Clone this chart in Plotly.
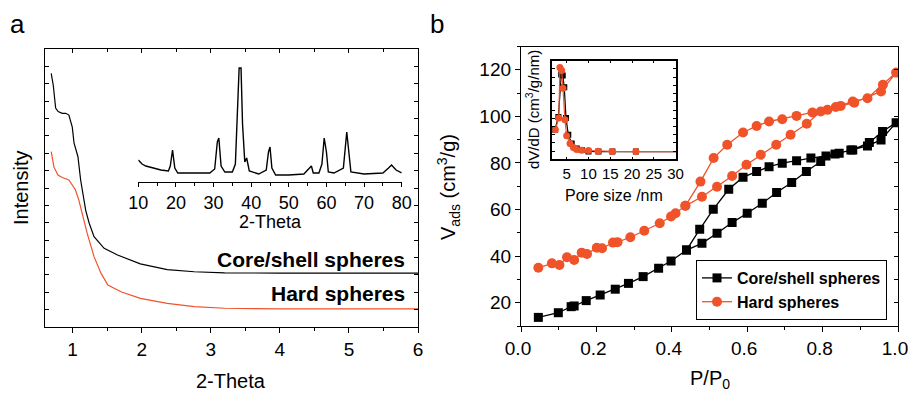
import plotly.graph_objects as go

W, H = 909, 393
RED = "#F0532A"
FONT = "Arial, Liberation Sans, sans-serif"

# ---------- panel a: small-angle XRD ----------
core_tt = [0.69, 0.72, 0.754, 0.79, 0.85, 0.90, 0.946, 0.995, 1.02, 1.077, 1.116, 1.14, 1.155, 1.19, 1.24, 1.31, 1.456, 1.65, 1.98, 2.37, 2.76, 3.2, 4.0, 5.0, 6.0]
core_int = [14.6, 13.9, 12.6, 12.4, 12.3, 12.3, 12.2, 11.5, 10.6, 9.8, 8.46, 7.9, 7.3, 6.7, 5.97, 5.2, 4.53, 4.14, 3.63, 3.3, 3.18, 3.12, 3.1, 3.1, 3.1]
hard_tt = [0.69, 0.73, 0.787, 0.85, 0.946, 1.04, 1.09, 1.14, 1.21, 1.31, 1.41, 1.51, 1.70, 1.98, 2.37, 2.76, 3.2, 4.0, 5.0, 6.0]
hard_int = [10.09, 9.2, 8.75, 8.6, 8.46, 7.9, 7.3, 6.54, 5.4, 4.05, 3.1, 2.42, 2.03, 1.65, 1.36, 1.17, 1.08, 1.04, 1.04, 1.04]

# inset: wide-angle XRD
wa_tt = [10, 11, 12, 14, 16, 18, 18.5, 19.1, 19.7, 20.5, 25, 29, 30.3, 31.0, 31.4, 32, 33, 35, 35.8, 36.3, 36.8, 37.3, 37.7, 38.3, 38.8, 39.5, 42, 44, 44.6, 45.0, 45.5, 46.5, 50, 54, 55.5, 56, 56.5, 58, 58.8, 59.4, 60, 60.5, 62, 64.5, 65.4, 66, 66.5, 70, 75, 76.5, 77.3, 78.5, 80]
wa_int = [22, 18, 16, 14, 12, 11, 16, 32, 14, 9, 9, 9, 13, 40, 44, 16, 10, 10, 18, 60, 114, 114, 58, 20, 24, 11, 8, 12, 30, 35, 14, 7, 7, 8, 14, 16, 9, 9, 18, 44, 30, 10, 9, 14, 50, 30, 10, 8, 9, 14, 17, 12, 9]

# ---------- panel b: N2 isotherms ----------
core_p = [0.046, 0.099, 0.133, 0.141, 0.173, 0.210, 0.250, 0.285, 0.324, 0.365, 0.398, 0.439, 0.48, 0.52, 0.56, 0.60, 0.64, 0.678, 0.718, 0.757, 0.795, 0.833, 0.875, 0.919, 0.955, 0.995,
          0.959, 0.924, 0.88, 0.844, 0.809, 0.769, 0.731, 0.693, 0.658, 0.625, 0.589, 0.551, 0.51, 0.474, 0.439]
core_v = [13.7, 15.7, 18.3, 18.6, 20.9, 23.3, 25.8, 28.3, 31.2, 34.8, 37.9, 42.6, 45.5, 49.8, 54.4, 58.4, 62.7, 67.3, 71.6, 76.3, 80.6, 83.8, 85.6, 87.3, 89.9, 97.3,
          93.5, 88.8, 85.6, 84.2, 83.0, 82.1, 80.9, 79.9, 78.4, 76.3, 73.9, 68.7, 60.1, 51.5, 42.6]
hard_p = [0.046, 0.082, 0.102, 0.122, 0.141, 0.161, 0.175, 0.201, 0.215, 0.244, 0.256, 0.29, 0.327, 0.368, 0.398, 0.41, 0.436, 0.48, 0.52, 0.56, 0.598, 0.636, 0.677, 0.715, 0.758, 0.795, 0.835, 0.88, 0.919, 0.96, 0.995,
          0.955, 0.884, 0.848, 0.813, 0.773, 0.731, 0.693, 0.658, 0.625, 0.589, 0.547, 0.511, 0.476, 0.436]
hard_v = [35.0, 36.9, 36.2, 39.5, 38.3, 41.5, 40.9, 43.6, 43.4, 45.8, 46.0, 48.1, 50.9, 54.1, 57.0, 58.4, 61.6, 65.5, 69.8, 74.4, 79.2, 83.5, 87.8, 92.1, 96.8, 102.1, 104.0, 106.4, 107.8, 113.6, 118.8,
          110.7, 105.9, 104.5, 102.8, 101.7, 100.2, 98.8, 97.8, 95.9, 93.1, 87.8, 82.1, 72.0, 61.6]

# inset: pore size distribution
core_d = [2.3, 3.1, 3.75, 4.1, 4.45, 4.84, 5.37, 6.15, 7.3, 8.46, 10.0, 12.3, 15.5, 20.9, 31]
core_dv = [0.30, 0.43, 0.86, 0.85, 0.73, 0.42, 0.25, 0.16, 0.11, 0.094, 0.08, 0.078, 0.078, 0.078, 0.078]
hard_d = [2.4, 3.2, 3.45, 3.85, 4.15, 4.6, 5.0, 5.77, 6.54, 7.3, 8.46, 10.0, 12.2, 15.4, 20.9, 31]
hard_dv = [0.30, 0.42, 0.93, 0.90, 0.72, 0.40, 0.24, 0.16, 0.12, 0.10, 0.092, 0.088, 0.082, 0.08, 0.078, 0.078]

# tick labels
iso_ticks = [0.0, 0.2, 0.4, 0.6, 0.8, 1.0]
iso_ticklabels = ["0.0", "0.2", "0.4", "0.6", "0.8", "1.0"]


def px(x0, x1):
    return [x0 / W, x1 / W]


def py(top, bottom):
    return [(H - bottom) / H, (H - top) / H]


fig = go.Figure()

# panel a main
fig.add_trace(go.Scatter(x=core_tt, y=core_int, mode="lines", line=dict(color="black", width=1.2),
                         xaxis="x", yaxis="y", showlegend=False))
fig.add_trace(go.Scatter(x=hard_tt, y=hard_int, mode="lines", line=dict(color=RED, width=1.2),
                         xaxis="x", yaxis="y", showlegend=False))
# panel a inset
fig.add_trace(go.Scatter(x=wa_tt, y=wa_int, mode="lines", line=dict(color="black", width=1.4),
                         xaxis="x2", yaxis="y2", showlegend=False))
# panel b main
fig.add_trace(go.Scatter(x=core_p, y=core_v, mode="lines+markers", name="<b>Core/shell spheres</b>",
                         line=dict(color="black", width=1.3),
                         marker=dict(symbol="square", size=9, color="black"),
                         xaxis="x3", yaxis="y3"))
fig.add_trace(go.Scatter(x=hard_p, y=hard_v, mode="lines+markers", name="<b>Hard spheres</b>",
                         line=dict(color=RED, width=1.3),
                         marker=dict(symbol="circle", size=10, color=RED),
                         xaxis="x3", yaxis="y3"))
# panel b inset
fig.add_trace(go.Scatter(x=core_d, y=core_dv, mode="lines+markers", showlegend=False,
                         line=dict(color="black", width=1.2),
                         marker=dict(symbol="square", size=6, color="black"),
                         xaxis="x4", yaxis="y4"))
fig.add_trace(go.Scatter(x=hard_d, y=hard_dv, mode="lines+markers", showlegend=False,
                         line=dict(color=RED, width=1.2),
                         marker=dict(symbol="circle", size=7, color=RED),
                         xaxis="x4", yaxis="y4"))
# dummy traces for mirror-tick overlay axes
fig.add_trace(go.Scatter(x=[], y=[], xaxis="x5", yaxis="y", showlegend=False))
fig.add_trace(go.Scatter(x=[], y=[], xaxis="x3", yaxis="y6", showlegend=False))

ax_common = dict(showline=True, linecolor="black", linewidth=1.3, ticks="outside", tickcolor="black",
                 tickwidth=1.2, zeroline=False, showgrid=False, automargin=False,
                 ticklabeloverflow="allow",
                 tickfont=dict(size=19, color="black", family=FONT))

fig.update_layout(
    width=W, height=H, margin=dict(l=0, r=0, t=0, b=0),
    paper_bgcolor="white", plot_bgcolor="rgba(0,0,0,0)",
    font=dict(family=FONT, color="black"),
    xaxis=dict(ax_common, domain=px(45, 418), range=[0.6, 6], dtick=1, tick0=0, ticklen=5, anchor="y",
               minor=dict(dtick=0.5, ticks="outside", ticklen=3, tickcolor="black")),
    xaxis5=dict(ax_common, overlaying="x", side="top", anchor="y", range=[0.6, 6], dtick=1, tick0=0,
                ticks="inside", ticklen=4, showticklabels=False,
                minor=dict(dtick=0.5, ticks="inside", ticklen=3, tickcolor="black")),
    yaxis=dict(ax_common, domain=py(49, 327), range=[0, 16], dtick=1, ticks="inside", ticklen=4,
               showticklabels=False, mirror="ticks", anchor="x"),
    xaxis2=dict(ax_common, domain=px(138.3, 401.7), range=[10, 80], dtick=10, ticklen=4, anchor="y2",
                tickfont=dict(size=18, color="black", family=FONT),
                minor=dict(dtick=5, ticks="outside", ticklen=2.5, tickcolor="black")),
    yaxis2=dict(domain=py(65, 182), range=[0, 117], visible=False, anchor="x2"),
    xaxis3=dict(ax_common, domain=px(521, 898), range=[0, 1.0], tickmode="array",
                tickvals=iso_ticks, ticktext=iso_ticklabels, ticklabelshift=-3,
                ticklen=5, mirror=True, anchor="y3",
                minor=dict(tickmode="linear", tick0=0, dtick=0.1, ticks="outside", ticklen=3, tickcolor="black")),
    yaxis3=dict(ax_common, domain=py(46.5, 326), range=[10, 130], dtick=20, tick0=0, ticklen=5, anchor="x3",
                minor=dict(dtick=10, ticks="outside", ticklen=3, tickcolor="black")),
    yaxis6=dict(ax_common, overlaying="y3", side="right", anchor="x3", range=[10, 130], dtick=10, tick0=0,
                ticks="inside", ticklen=4, showticklabels=False),
    xaxis4=dict(ax_common, domain=px(552.3, 676), range=[1.7, 30.1], dtick=5, tick0=0, ticks="inside",
                ticklen=3, mirror="ticks", linewidth=1.5, anchor="y4",
                tickfont=dict(size=15, color="black", family=FONT)),
    yaxis4=dict(ax_common, domain=py(60.7, 159.3), range=[0, 1], dtick=1 / 12, tick0=0, ticks="inside",
                ticklen=3, mirror="ticks", linewidth=1.5, showticklabels=False, anchor="x4"),
    legend=dict(x=696 / W, y=(H - 260) / H, xanchor="left", yanchor="top",
                bordercolor="black", borderwidth=1, bgcolor="white",
                font=dict(size=16, color="black", family=FONT), tracegroupgap=0),
)

ann = []


def text(x, y, s, size, angle=0, xanchor="center", bold=False):
    ann.append(dict(x=x / W, y=(H - y) / H, xref="paper", yref="paper", text=s, showarrow=False,
                    textangle=angle, xanchor=xanchor, yanchor="middle",
                    font=dict(size=size, color="black", family=FONT,
                              weight="bold" if bold else "normal")))


text(17, 24, "a", 26)
text(437, 24, "b", 26)
text(21, 188, "Intensity", 20, angle=-90)
text(231, 381, "2-Theta", 20)
text(270, 222, "2-Theta", 18)
text(407, 260, "Core/shell spheres", 21, xanchor="right", bold=True)
text(407, 293, "Hard spheres", 21, xanchor="right", bold=True)
text(448, 187, "V<sub>ads</sub> (cm<sup>3</sup>/g)", 20, angle=-90)
text(710, 379, "P/P<sub>0</sub>", 20)
text(614, 195, "Pore size /nm", 16)
text(533, 110, "dV/dD (cm<sup>3</sup>/g/nm)", 15, angle=-90)

fig.update_layout(annotations=ann)
fig.write_html("out.html", config={"displayModeBar": False},
               post_script="document.body.style.margin='0';document.body.style.overflow='hidden';")
